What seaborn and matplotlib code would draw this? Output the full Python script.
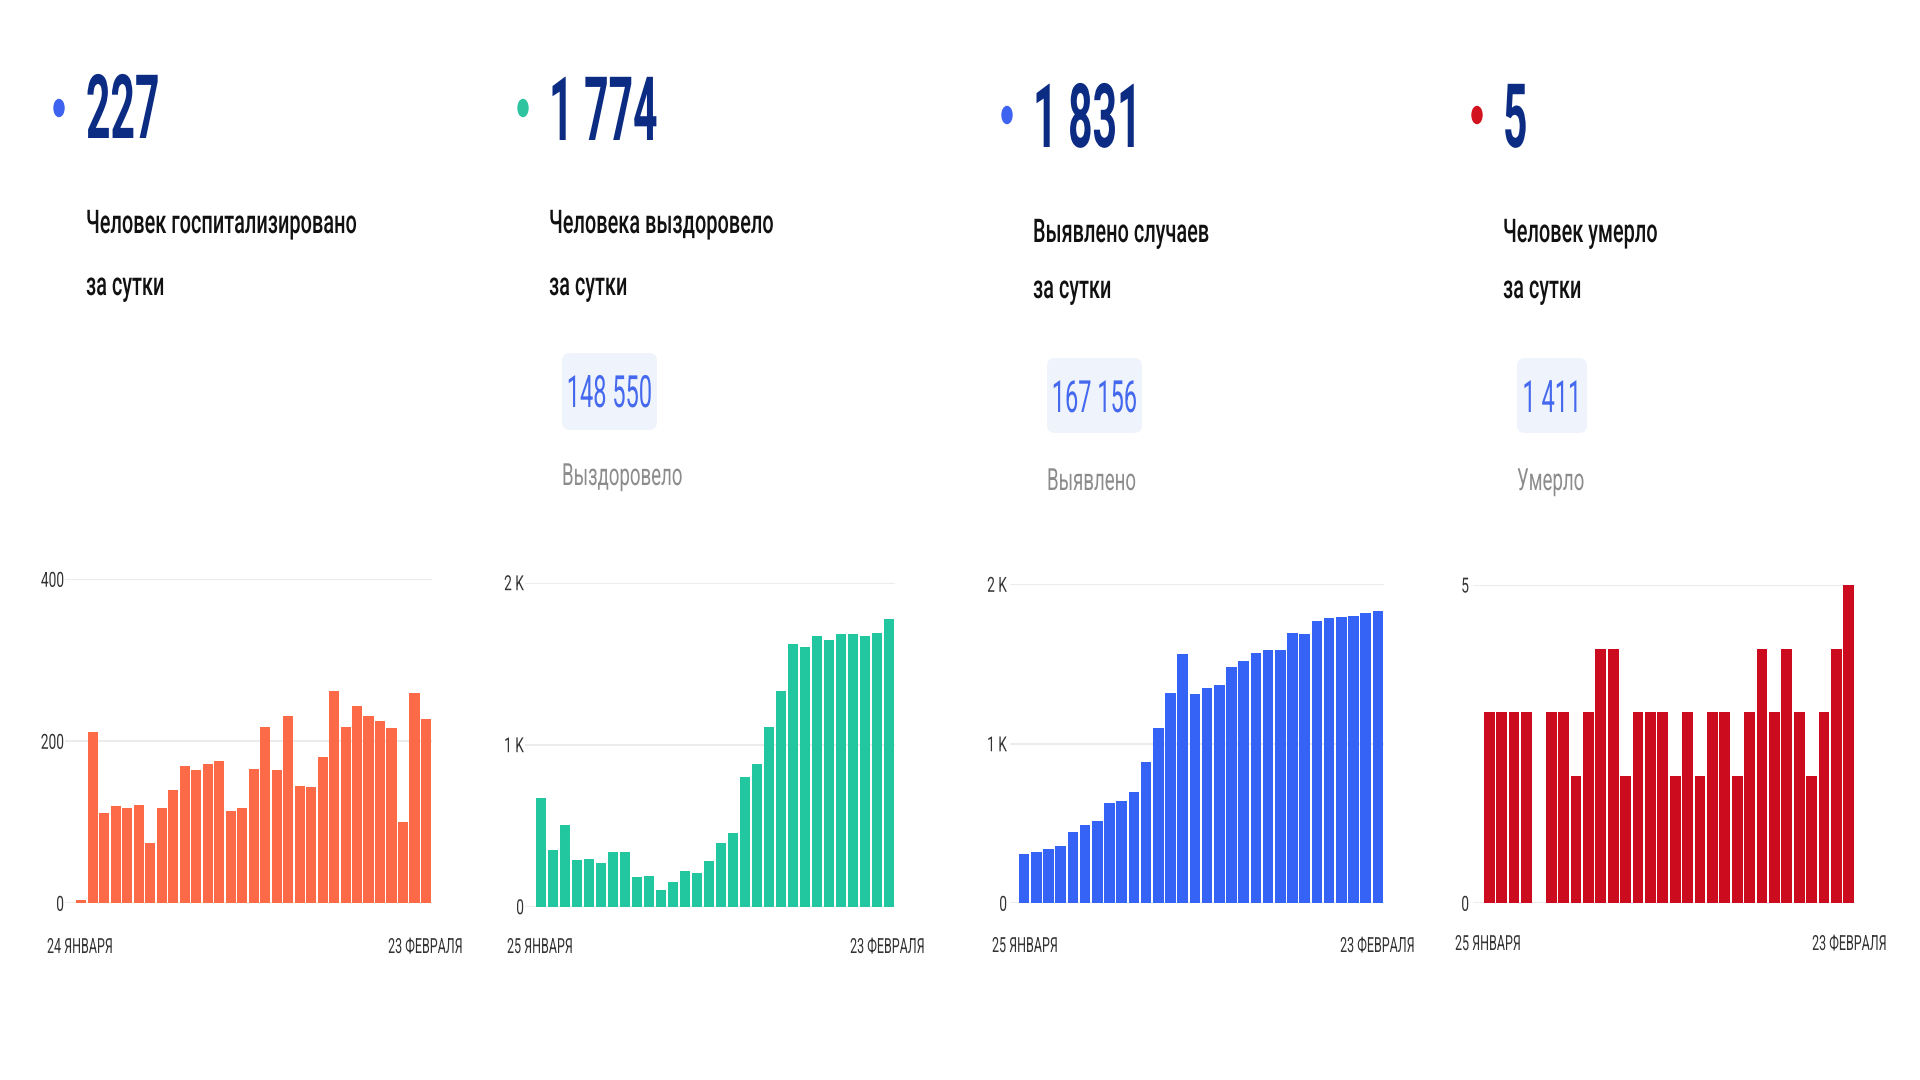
import matplotlib
matplotlib.use("Agg")
import matplotlib.pyplot as plt
import matplotlib.transforms as mtransforms
import seaborn as sns
from matplotlib.patches import Ellipse, FancyBboxPatch
from matplotlib.patheffects import AbstractPathEffect

# ---- data ----
hospitalized = [4, 212, 112, 120, 118, 121, 74, 118, 140, 169, 165, 172, 176, 114, 118, 166,
                218, 165, 231, 145, 143, 181, 262, 218, 244, 231, 225, 217, 100, 260, 227]
recovered = [670, 350, 505, 288, 293, 268, 336, 340, 185, 190, 103, 150, 220, 210, 282, 391,
             453, 799, 882, 1112, 1333, 1623, 1601, 1669, 1648, 1685, 1685, 1669, 1689, 1774]
detected = [309, 324, 341, 359, 445, 491, 516, 627, 644, 696, 884, 1097, 1317, 1563, 1312, 1350,
            1367, 1482, 1519, 1567, 1588, 1588, 1693, 1689, 1768, 1789, 1797, 1804, 1818, 1831]
deaths = [3, 3, 3, 3, 0, 3, 3, 2, 3, 4, 4, 2, 3, 3, 3, 2, 3, 2, 3, 3, 2, 3, 4, 3, 4, 3, 2, 3, 4, 5]

headline_values = ["227", "1 774", "1 831", "5"]
headline_lines = [
    ["Человек госпитализировано", "за сутки"],
    ["Человека выздоровело", "за сутки"],
    ["Выявлено случаев", "за сутки"],
    ["Человек умерло", "за сутки"],
]
total_values = [None, "148 550", "167 156", "1 411"]
total_labels = [None, "Выздоровело", "Выявлено", "Умерло"]
start_dates = ["24 ЯНВАРЯ", "25 ЯНВАРЯ", "25 ЯНВАРЯ", "25 ЯНВАРЯ"]
end_dates = ["23 ФЕВРАЛЯ", "23 ФЕВРАЛЯ", "23 ФЕВРАЛЯ", "23 ФЕВРАЛЯ"]
y_ticks = [[0, 200, 400], [0, 1000, 2000], [0, 1000, 2000], [0, 5]]
y_ticklabels = [["0", "200", "400"], ["0", "1 K", "2 K"], ["0", "1 K", "2 K"], ["0", "5"]]

series = [hospitalized, recovered, detected, deaths]
bar_colors = ["#fd6a47", "#22c79f", "#3563f5", "#cc0b1f"]
dot_colors = ["#3d63f0", "#2ec4a0", "#3d63f0", "#d3121f"]

W, H = 1920, 1080
NAVY = "#0c2c84"

# layout per panel in reference pixels (top-left origin)
panel_x = [86, 549, 1033, 1503]
dot_xy = [(59, 108), (523, 108), (1007, 115), (1477, 115)]
num_base = [138, 140, 147, 147]
sub_base = [(233, 295), (233, 295), (242, 298), (242, 298)]
box_rect = [None, (562, 353, 657, 430), (1047, 358, 1142, 433), (1517, 358, 1587, 433)]
box_base = [None, 407, 412, 412]
lab_base = [None, 485, 490, 490]

# chart frames: grid left, bars left, bars right, top gridline, baseline
chart_frames = [
    (65, 75.7, 431.7, 579.3, 903.3),
    (525, 535, 895, 582.7, 906.7),
    (1010, 1018, 1384, 584.3, 903.3),
    (1473, 1483, 1855, 585, 903.3),
]
tick_pads = [0.8, 0.8, 2.2, 2.9]
date_pos = [(47, 463, 953), (507, 925, 953), (992, 1415, 952), (1455, 1887, 950)]


def anchor_x(bb, ha):
    if ha == "left":
        return bb.x0
    if ha == "right":
        return bb.x1
    return (bb.x0 + bb.x1) / 2


class Squeeze(AbstractPathEffect):
    """Draw text horizontally condensed around its alignment point."""

    def __init__(self, text, extent, sx):
        super().__init__()
        self.text = text
        self.extent = extent
        self.sx = sx

    def draw_path(self, renderer, gc, tpath, affine, rgbFace=None):
        bb = self.extent(renderer)
        x = anchor_x(bb, self.text.get_horizontalalignment())
        t = affine + mtransforms.Affine2D().translate(-x, 0).scale(self.sx, 1).translate(x, 0)
        renderer.draw_path(gc, tpath, t, rgbFace)


def squeeze(text, sx):
    orig = text.get_window_extent

    def extent(renderer=None, dpi=None):
        bb = orig(renderer, dpi)
        x = anchor_x(bb, text.get_horizontalalignment())
        return mtransforms.Bbox.from_extents(x + (bb.x0 - x) * sx, bb.y0,
                                             x + (bb.x1 - x) * sx, bb.y1)

    text.set_path_effects([Squeeze(text, orig, sx)])
    text.get_window_extent = extent
    return text


sns.set_theme(style="white")
plt.rcParams["font.family"] = ["Roboto", "DejaVu Sans"]

fig = plt.figure(figsize=(W / 100, H / 100), dpi=100)
fig.patch.set_facecolor("white")


def fx(x):
    return x / W


def fy(y):
    return 1 - y / H


for i in range(4):
    # headline dot and number
    dx, dy = dot_xy[i]
    fig.patches.append(Ellipse((dx, H - dy), 10, 17, color=dot_colors[i],
                               transform=mtransforms.IdentityTransform()))
    squeeze(fig.text(fx(panel_x[i]), fy(num_base[i]), headline_values[i], fontsize=64,
                     fontweight="bold", color=NAVY, va="baseline", ha="left"), 0.48)
    for line, base in zip(headline_lines[i], sub_base[i]):
        squeeze(fig.text(fx(panel_x[i]), fy(base), line, fontsize=23.5, fontweight="medium",
                         color="#111111", va="baseline", ha="left"), 0.61)

    # running total box
    if total_values[i] is not None:
        x0, y0, x1, y1 = box_rect[i]
        fig.patches.append(FancyBboxPatch((x0 + 6, H - y1 + 6), x1 - x0 - 12, y1 - y0 - 12,
                                          boxstyle="round,pad=6,rounding_size=8",
                                          fc="#eff3fb", ec="none",
                                          transform=mtransforms.IdentityTransform()))
        squeeze(fig.text(fx((x0 + x1) / 2), fy(box_base[i]), total_values[i], fontsize=32,
                         color="#4468ee", va="baseline", ha="center"), 0.53)
        squeeze(fig.text(fx(x0), fy(lab_base[i]), total_labels[i], fontsize=22,
                         color="#8c8c8c", va="baseline", ha="left"), 0.61)

    # bar chart
    gl, bl, br, ytop, ybase = chart_frames[i]
    values = series[i]
    n = len(values)
    pitch = (br - bl) / n
    ax = fig.add_axes([fx(gl), fy(ybase), fx(br - gl), (ybase - ytop) / H])
    sns.barplot(x=list(range(n)), y=values, ax=ax, color=bar_colors[i],
                saturation=1, width=0.88, linewidth=0)
    ax.set_xlim(-0.5 - (bl - gl) / pitch, n - 0.5)
    ax.set_ylim(0, y_ticks[i][-1])
    ax.set_yticks(y_ticks[i])
    ax.set_yticklabels(y_ticklabels[i])
    ax.set_xticks([])
    ax.set_xlabel("")
    ax.set_ylabel("")
    ax.set_axisbelow(True)
    ax.yaxis.grid(True, color="#ececec", linewidth=1.5)
    ax.tick_params(axis="y", length=0, pad=tick_pads[i], labelsize=15, labelcolor="#333333")
    for lab in ax.get_yticklabels():
        squeeze(lab, 0.66)
    for s in ax.spines.values():
        s.set_visible(False)
    ax.patch.set_alpha(0)

    # date labels under the chart
    left_x, right_x, base_y = date_pos[i]
    squeeze(fig.text(fx(left_x), fy(base_y), start_dates[i], fontsize=15, color="#333333",
                     va="baseline", ha="left"), 0.6)
    squeeze(fig.text(fx(right_x), fy(base_y), end_dates[i], fontsize=15, color="#333333",
                     va="baseline", ha="right"), 0.6)

fig.savefig("out.png", dpi=100, facecolor="white")
plt.close(fig)
